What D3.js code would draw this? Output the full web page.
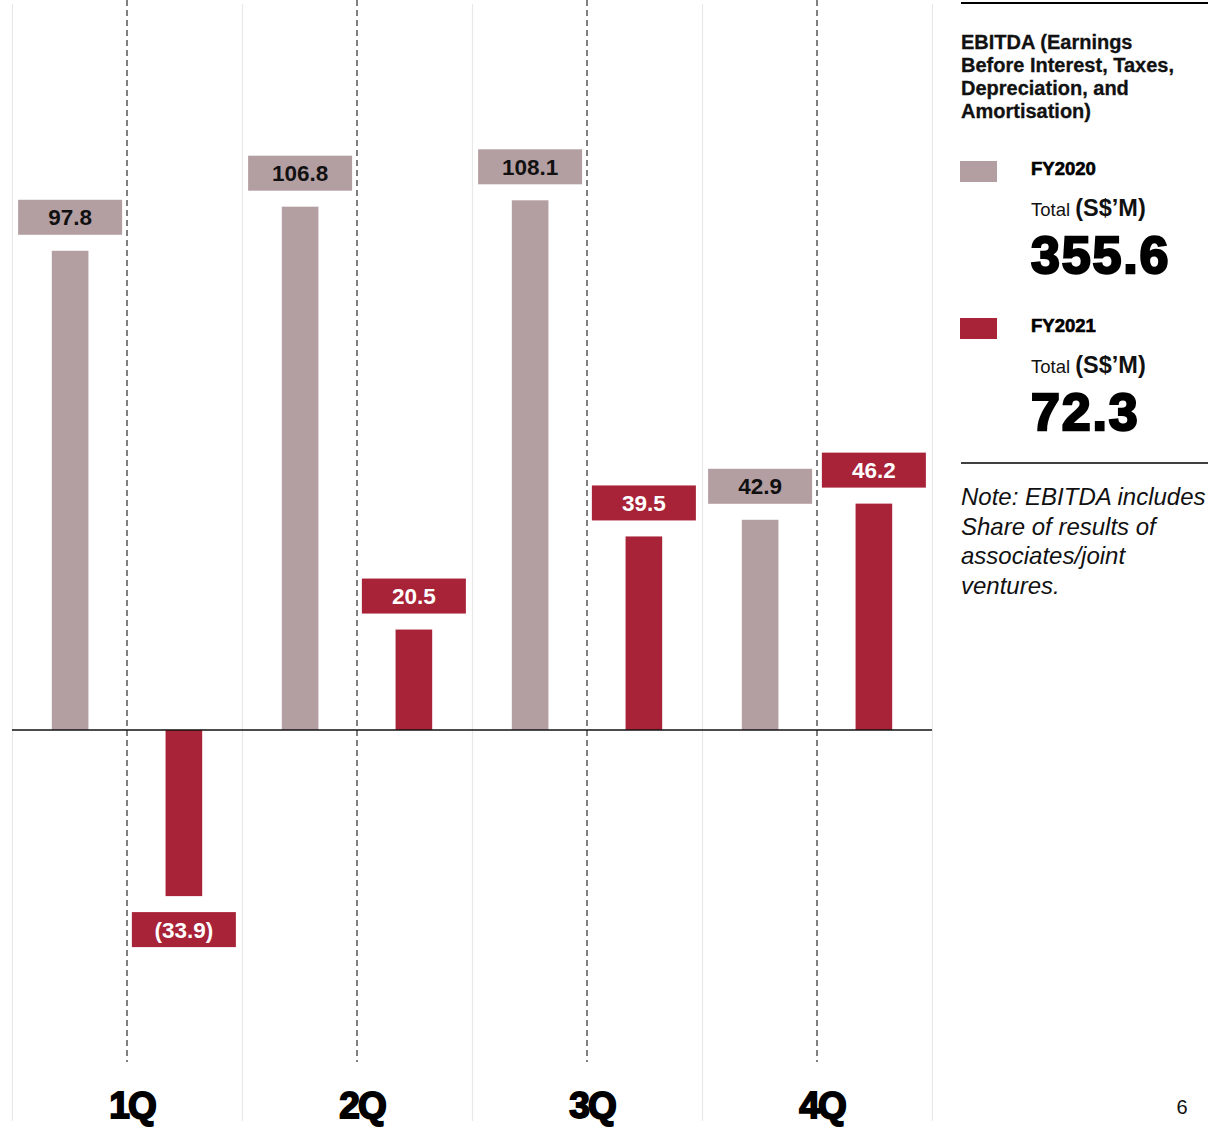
<!DOCTYPE html>
<html><head><meta charset="utf-8">
<script src="https://cdn.jsdelivr.net/npm/d3@7"></script>
<style>
body{margin:0;background:#fff;}
svg{display:block;}
</style></head>
<body>
<svg id="c" width="1216" height="1131"></svg>
<script>
const quarters = ["1Q","2Q","3Q","4Q"];
const series = ["FY2020","FY2021"];
const fy2020 = [97.8, 106.8, 108.1, 42.9];
const fy2021 = [-33.9, 20.5, 39.5, 46.2];
const totals = ["355.6", "72.3"];
const titleLines = ["EBITDA (Earnings","Before Interest, Taxes,","Depreciation, and","Amortisation)"];
const noteLines = ["Note: EBITDA includes","Share of results of","associates/joint","ventures."];
const colors = {FY2020:"#b39ea2", FY2021:"#a82238"};

const svg = d3.select("#c");
const left = 12, right = 932, zeroY = 730;
const x0 = d3.scaleBand().domain(quarters).range([left, right]).padding(0);
const x1 = d3.scaleBand().domain(series).range([0, x0.bandwidth()]).paddingInner(0.678).paddingOuter(0.35);
const y = d3.scaleLinear().domain([-60, 100]).range([zeroY + 60*4.9, zeroY - 100*4.9]);

const data = [];
quarters.forEach((q,i)=>{
  data.push({q, s:"FY2020", v:fy2020[i]});
  data.push({q, s:"FY2021", v:fy2021[i]});
});

// light vertical grid lines at quarter boundaries
const bounds = quarters.map(q=>x0(q)).concat([right]);
svg.append("g").selectAll("line").data(bounds).join("line")
  .attr("x1",d=>d+0.5).attr("x2",d=>d+0.5).attr("y1",4).attr("y2",1121)
  .attr("stroke","#e8e8e8").attr("stroke-width",1.2);

// dashed lines at quarter middle
svg.append("g").selectAll("line").data(quarters).join("line")
  .attr("x1",q=>x0(q)+x0.bandwidth()/2).attr("x2",q=>x0(q)+x0.bandwidth()/2)
  .attr("y1",0).attr("y2",1062)
  .attr("stroke","#4a4a4a").attr("stroke-width",1.4).attr("stroke-dasharray","6,4");

// bars
svg.append("g").selectAll("rect").data(data).join("rect")
  .attr("x",d=>x0(d.q)+x1(d.s))
  .attr("width",x1.bandwidth())
  .attr("y",d=>d.v>=0?y(d.v):y(0))
  .attr("height",d=>Math.abs(y(d.v)-y(0)))
  .attr("fill",d=>colors[d.s]);

// zero line
svg.append("line").attr("x1",left).attr("x2",right).attr("y1",y(0)).attr("y2",y(0))
  .attr("stroke","#111").attr("stroke-width",1.6);

// label boxes
const boxW = 104, boxH = 35, gap = 16;
const lab = svg.append("g").selectAll("g").data(data).join("g")
  .attr("transform",d=>{
    const cx = x0(d.q)+x1(d.s)+x1.bandwidth()/2;
    const top = d.v>=0 ? y(d.v)-gap-boxH : y(d.v)+gap;
    return `translate(${cx},${top})`;
  });
lab.append("rect").attr("x",-boxW/2).attr("width",boxW).attr("height",boxH)
  .attr("fill",d=>colors[d.s]);
lab.append("text").attr("y",boxH/2+8).attr("text-anchor","middle")
  .attr("font-family","Liberation Sans, Arial, sans-serif").attr("font-weight","bold")
  .attr("font-size",22.5)
  .attr("fill",d=>d.s==="FY2020"?"#111":"#fff")
  .text(d=>d.v<0?`(${Math.abs(d.v).toFixed(1)})`:d.v.toFixed(1));

// quarter labels
svg.append("g").selectAll("text").data(quarters).join("text")
  .attr("x",q=>x0(q)+x0.bandwidth()/2+5).attr("y",1118)
  .attr("text-anchor","middle")
  .attr("font-family","Liberation Sans, Arial, sans-serif").attr("font-weight","bold")
  .attr("font-size",37).attr("letter-spacing","-2")
  .attr("stroke","#000").attr("stroke-width",1.8).attr("fill","#000")
  .text(q=>q);

// legend panel
const L = svg.append("g");
L.append("line").attr("x1",961).attr("x2",1208).attr("y1",3).attr("y2",3).attr("stroke","#000").attr("stroke-width",2);
L.append("text").attr("font-family","Liberation Sans, Arial, sans-serif").attr("font-weight","bold")
  .attr("font-size",20).attr("fill","#111").attr("stroke","#111").attr("stroke-width",0.3)
  .selectAll("tspan").data(titleLines).join("tspan")
  .attr("x",961).attr("y",(d,i)=>49+i*23).text(d=>d);

const legY = [161, 318];
series.forEach((s,i)=>{
  const g = L.append("g").attr("transform",`translate(0,${legY[i]})`);
  g.append("rect").attr("x",960).attr("y",0).attr("width",37).attr("height",21).attr("fill",colors[s]);
  g.append("text").attr("x",1031).attr("y",14).attr("font-family","Liberation Sans, Arial, sans-serif")
    .attr("font-weight","bold").attr("font-size",18.5).attr("stroke","#000").attr("stroke-width",0.6).text(s);
  const t = g.append("text").attr("x",1031).attr("y",55).attr("font-family","Liberation Sans, Arial, sans-serif").attr("fill","#111");
  t.append("tspan").attr("font-size",18.5).text("Total ");
  t.append("tspan").attr("font-size",23.5).attr("font-weight","bold").text("(S$’M)");
  g.append("text").attr("x",1031).attr("y",112).attr("font-family","Liberation Sans, Arial, sans-serif")
    .attr("font-weight","bold").attr("font-size",52).attr("stroke","#000").attr("stroke-width",2.4)
    .attr("letter-spacing","1.8").text(totals[i]);
});

L.append("line").attr("x1",961).attr("x2",1208).attr("y1",463).attr("y2",463).attr("stroke","#000").attr("stroke-width",1.6);
L.append("text").attr("font-family","Liberation Sans, Arial, sans-serif").attr("font-style","italic")
  .attr("font-size",24).attr("fill","#111")
  .selectAll("tspan").data(noteLines).join("tspan")
  .attr("x",961).attr("y",(d,i)=>505+i*29.5).text(d=>d);

svg.append("text").attr("x",1182).attr("y",1114).attr("text-anchor","middle")
  .attr("font-family","Liberation Sans, Arial, sans-serif").attr("font-size",20).attr("fill","#111").text("6");
</script>
</body></html>
